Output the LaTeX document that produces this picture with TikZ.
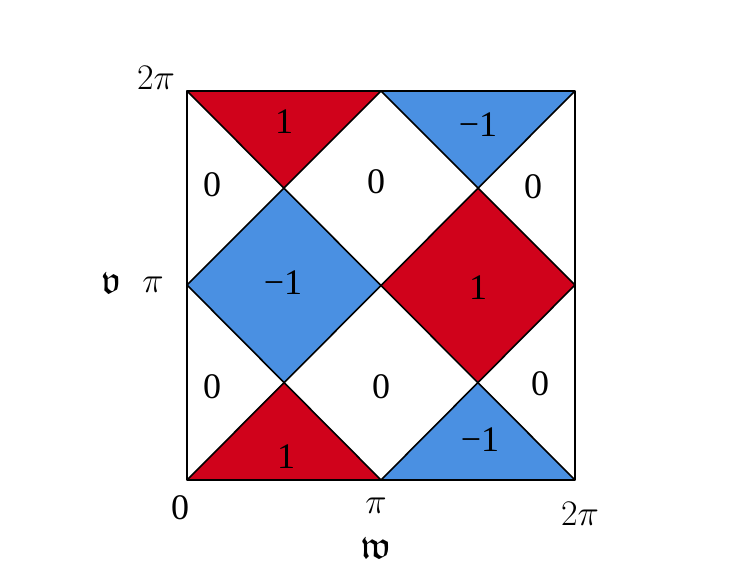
\RequirePackage{fix-cm}
\documentclass[tikz,border=0pt]{standalone}
\usepackage{amssymb}
\usepackage{graphicx}
\usepackage{fontspec}
\setmainfont{Liberation Serif}
\definecolor{cred}{RGB}{208,2,27}
\definecolor{cblue}{RGB}{74,144,226}
\begin{document}
\begin{tikzpicture}[x=1pt,y=1pt,
  edge/.style={draw=black,line width=1.6pt,line join=round},
  val/.style={font=\fontsize{36}{40}\selectfont,inner sep=0pt},
  ax/.style={font=\fontsize{36}{40}\selectfont,inner sep=0pt},
  fr/.style={font=\fontsize{24.88}{28}\selectfont,inner sep=0pt}]
\useasboundingbox (0,0) rectangle (754,578);
% grid points
\coordinate (A00) at (187,98);  \coordinate (A20) at (381,98);  \coordinate (A40) at (575,98);
\coordinate (A11) at (284,196); \coordinate (A31) at (478,196);
\coordinate (A02) at (187,293); \coordinate (A22) at (381,293); \coordinate (A42) at (575,293);
\coordinate (A13) at (284,390); \coordinate (A33) at (478,390);
\coordinate (A04) at (187,487); \coordinate (A24) at (381,487); \coordinate (A44) at (575,487);
% fills
\fill[cred] (A04) -- (A24) -- (A13) -- cycle;
\fill[cblue] (A24) -- (A44) -- (A33) -- cycle;
\fill[cblue] (A13) -- (A22) -- (A11) -- (A02) -- cycle;
\fill[cred] (A33) -- (A42) -- (A31) -- (A22) -- cycle;
\fill[cred] (A00) -- (A20) -- (A11) -- cycle;
\fill[cblue] (A20) -- (A40) -- (A31) -- cycle;
% edges
\draw[edge] (A00) rectangle (A44);
\draw[edge] (A04) -- (A44);
\draw[edge] (A00) -- (A40);
\draw[edge] (A04) -- (A40);
\draw[edge] (A00) -- (A44);
\draw[edge] (A24) -- (A02) -- (A20) -- (A42) -- cycle;
% values
\node[val] (v1) at (284,456) {1};
\node[val] (v2) at (478,453) {−1};
\node[val] (v3) at (212,393) {0};
\node[val] (v4) at (376,396) {0};
\node[val] (v5) at (533,391) {0};
\node[val] (v6) at (283,295) {−1};
\node[val] (v7) at (478,290) {1};
\node[val] (v8) at (212,191) {0};
\node[val] (v9) at (381,191) {0};
\node[val] (v10) at (540,194) {0};
\node[val] (v11) at (286,121) {1};
\node[val] (v12) at (480,138) {−1};
% axes
\node[ax] (y2) at (156,500) {$2\pi$};
\node[fr] (yv) at (111,295) {\scalebox{1.6}{$\mathfrak{v}$}};
\node[ax] (y1) at (153,293) {$\pi$};
\node[ax] (x0) at (180,70) {0};
\node[ax] (x1) at (376,72) {$\pi$};
\node[ax] (x2) at (580,64) {$2\pi$};
\node[fr] (xw) at (376,30) {\scalebox{1.6}{$\mathfrak{w}$}};
\end{tikzpicture}
\end{document}
